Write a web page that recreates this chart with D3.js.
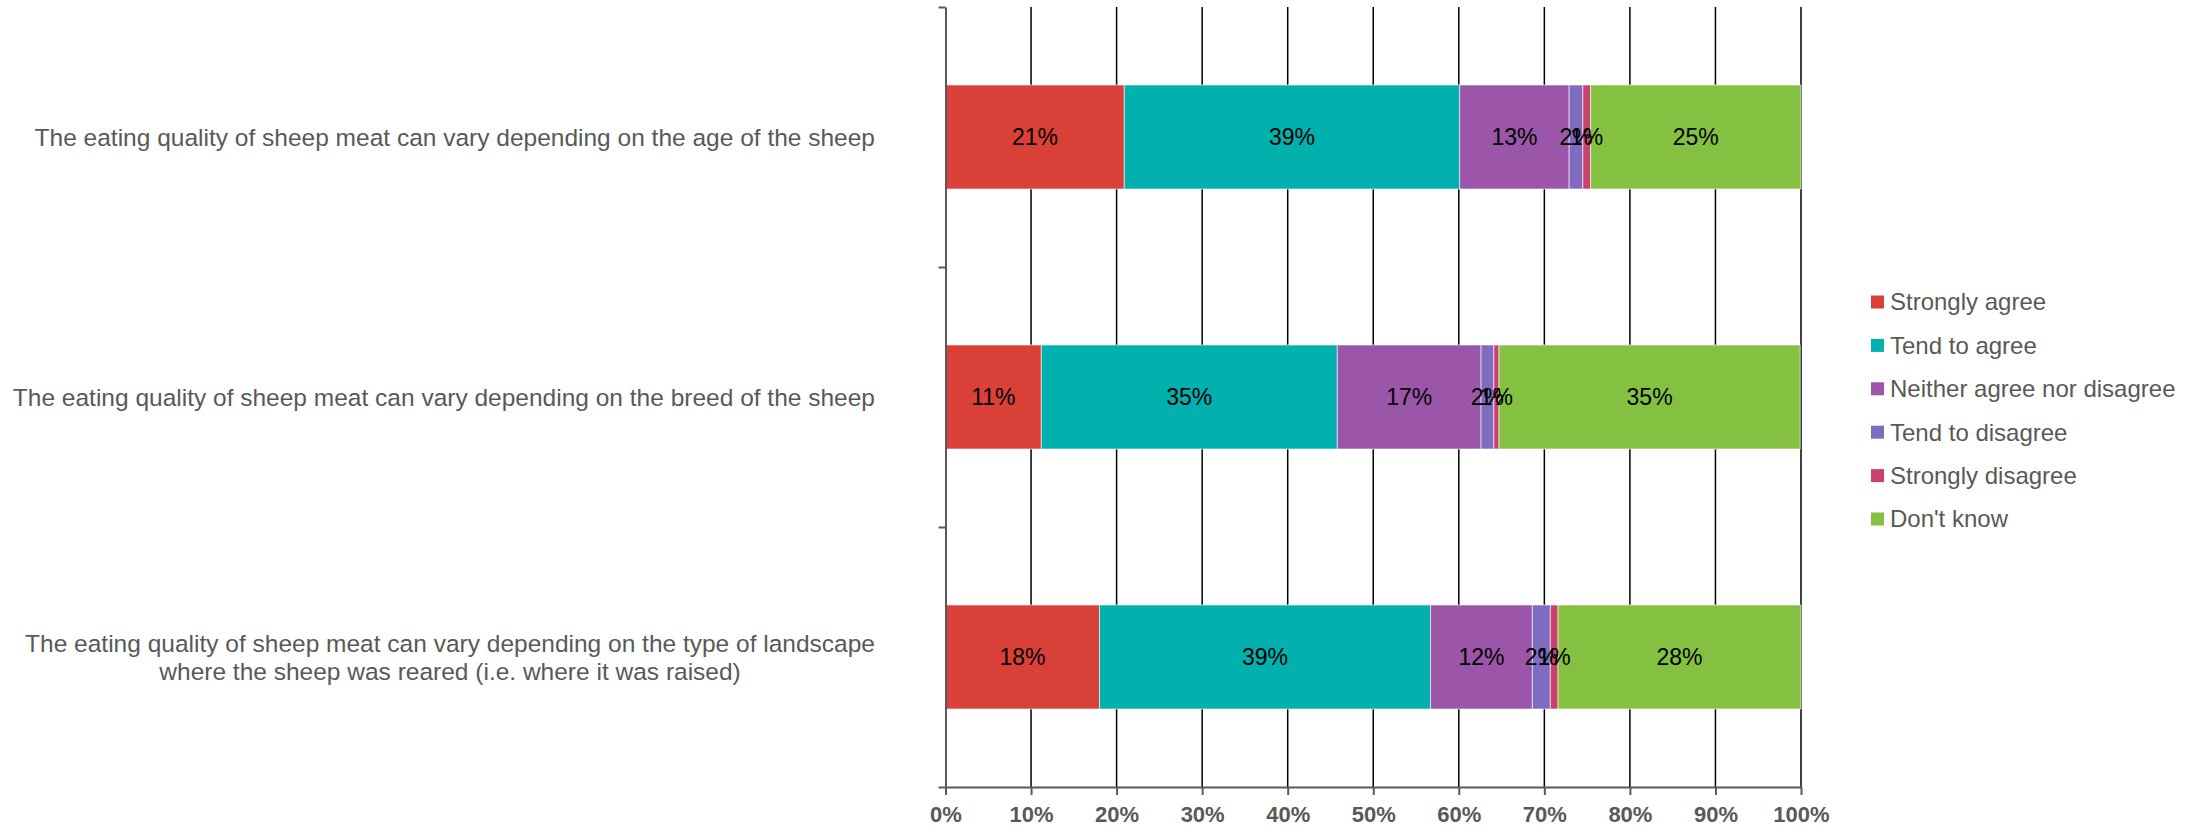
<html>
    <head>
        <script src="https://d3js.org/d3.v7.min.js"></script>
        <style>
            body { margin: 0; background: #fff; }
            text { font-family: "Liberation Sans", Arial, sans-serif; }
            .cat-label { font-size: 24.5px; fill: #595959; }
            .x-axis text { font-size: 22px; font-weight: bold; fill: #595959; }
            .x-axis path, .x-axis line { stroke: #595959; stroke-width: 2px; }
            .y-axis path, .y-axis line { stroke: #595959; stroke-width: 2px; }
            .grid line { stroke: #000; stroke-width: 1.5px; }
            .bar-label { font-family: "Liberation Sans Narrow", "Liberation Sans", Arial, sans-serif; font-size: 23px; fill: #000; }
            .legend text { font-size: 24px; fill: #595959; }
        </style>
    </head>
    <body>
        <script>
            var categories = [
                ["The eating quality of sheep meat can vary depending on the age of the sheep"],
                ["The eating quality of sheep meat can vary depending on the breed of the sheep"],
                ["The eating quality of sheep meat can vary depending on the type of landscape",
                 "where the sheep was reared (i.e. where it was raised)"]
            ];
            var seriesNames = ["Strongly agree", "Tend to agree", "Neither agree nor disagree",
                               "Tend to disagree", "Strongly disagree", "Don't know"];
            var colors = ["#d94038", "#02b0ae", "#9b55a9", "#7f6bbf", "#c8426e", "#84c140"];

            var stronglyAgree   = [20.9, 11.2, 18.0];
            var tendToAgree     = [39.2, 34.6, 38.7];
            var neither         = [12.8, 16.8, 11.9];
            var tendToDisagree  = [1.6, 1.5, 2.1];
            var stronglyDisagree = [0.9, 0.6, 0.9];
            var dontKnow        = [24.6, 35.2, 28.4];

            var xTicks = [0, 10, 20, 30, 40, 50, 60, 70, 80, 90, 100];

            var seriesValues = [stronglyAgree, tendToAgree, neither, tendToDisagree, stronglyDisagree, dontKnow];

            var margin = {top: 7, left: 945.5},
                width = 855.5,
                height = 780;

            var svg = d3.select("body").append("svg")
                .attr("width", 2201)
                .attr("height", 826);
            var g = svg.append("g")
                .attr("transform", "translate(" + margin.left + "," + margin.top + ")");

            var x = d3.scaleLinear().domain([0, 100]).range([0, width]);
            var y = d3.scaleBand()
                .domain(d3.range(categories.length))
                .range([0, height])
                .paddingInner(0.6)
                .paddingOuter(0.3);

            // vertical gridlines
            g.append("g").attr("class", "grid")
                .selectAll("line").data(xTicks.slice(1)).enter().append("line")
                .attr("x1", function(d) { return x(d); })
                .attr("x2", function(d) { return x(d); })
                .attr("y1", 0).attr("y2", height);

            // stacked rows
            var rows = categories.map(function(c, i) {
                var acc = 0;
                return seriesValues.map(function(vals, s) {
                    var seg = {cat: i, s: s, x0: acc, v: vals[i]};
                    acc += vals[i];
                    return seg;
                });
            });
            var segs = [].concat.apply([], rows);

            g.selectAll("rect.seg").data(segs).enter().append("rect")
                .attr("class", "seg")
                .attr("x", function(d) { return x(d.x0); })
                .attr("width", function(d) { return x(d.v) - x(0); })
                .attr("y", function(d) { return y(d.cat); })
                .attr("height", y.bandwidth())
                .attr("fill", function(d) { return colors[d.s]; })
                .attr("stroke", "#fff")
                .attr("stroke-opacity", 0.6)
                .attr("stroke-width", 1);

            g.selectAll("text.bar-label").data(segs).enter().append("text")
                .attr("class", "bar-label")
                .attr("x", function(d) { return x(d.x0 + d.v / 2); })
                .attr("y", function(d) { return y(d.cat) + y.bandwidth() / 2; })
                .attr("dy", "0.36em")
                .attr("text-anchor", "middle")
                .text(function(d) { return Math.round(d.v) + "%"; });

            // x axis
            g.append("g").attr("class", "x-axis")
                .attr("transform", "translate(0," + height + ")")
                .call(d3.axisBottom(x).tickValues(xTicks).tickSize(8).tickSizeOuter(0)
                    .tickFormat(function(d) { return d + "%"; }))
                .selectAll("text").attr("y", 19).attr("dy", "0.71em");

            // y axis with ticks at category boundaries
            var yb = d3.scaleLinear().domain([0, categories.length]).range([0, height]);
            g.append("g").attr("class", "y-axis")
                .call(d3.axisLeft(yb).tickValues(d3.range(categories.length + 1)).tickSize(7).tickSizeOuter(0)
                    .tickFormat(""));

            // category labels
            var labelRight = 875 - margin.left;
            categories.forEach(function(lines, i) {
                var t = g.append("text").attr("class", "cat-label").attr("text-anchor", "middle");
                var cy = y(i) + y.bandwidth() / 2;
                var lh = 28;
                lines.forEach(function(line, j) {
                    t.append("tspan")
                        .attr("y", cy + (j - (lines.length - 1) / 2) * lh)
                        .attr("dy", "0.35em")
                        .text(line);
                });
                var maxW = 0;
                t.selectAll("tspan").each(function() {
                    maxW = Math.max(maxW, this.getComputedTextLength());
                });
                t.selectAll("tspan").attr("x", labelRight - maxW / 2);
            });

            // legend
            var legend = svg.append("g").attr("class", "legend")
                .selectAll("g").data(seriesNames).enter().append("g")
                .attr("transform", function(d, i) { return "translate(1871," + (302 + i * 43.4) + ")"; });
            legend.append("rect")
                .attr("x", 0).attr("y", -6.5)
                .attr("width", 13).attr("height", 13)
                .attr("fill", function(d, i) { return colors[i]; });
            legend.append("text")
                .attr("x", 19).attr("dy", "0.35em")
                .text(function(d) { return d; });
        </script>
    </body>
</html>
